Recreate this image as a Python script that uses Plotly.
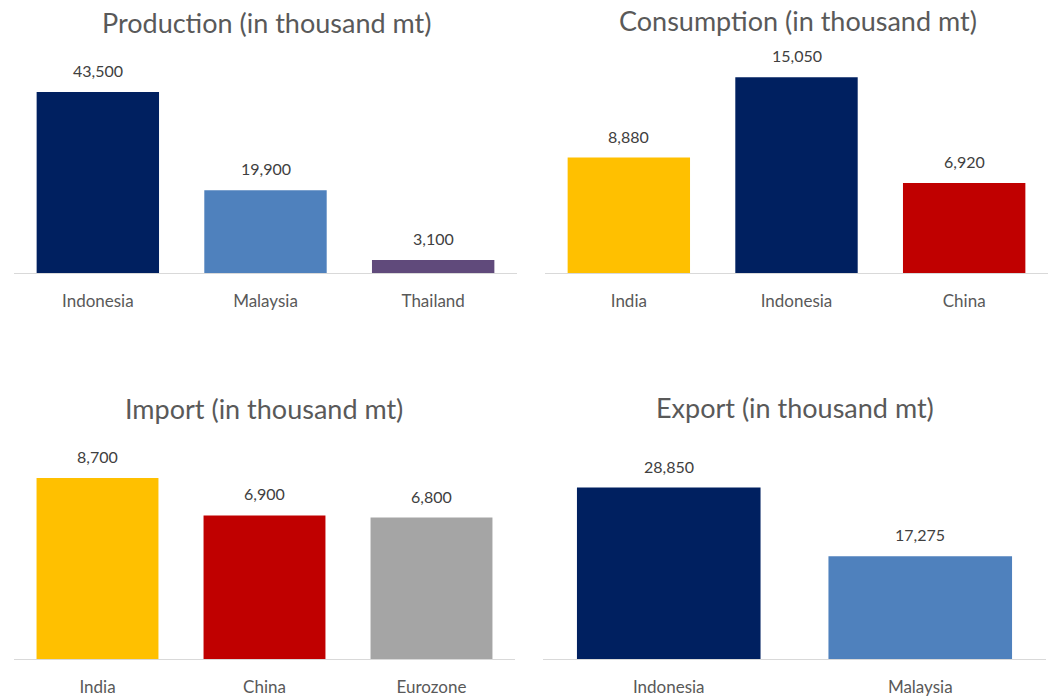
import plotly.graph_objects as go

W, H = 1057, 696

prod_cats = ["Indonesia", "Malaysia", "Thailand"]
prod_vals = [43500, 19900, 3100]
prod_colors = ["#002060", "#4F81BD", "#604A7B"]

cons_cats = ["India", "Indonesia", "China"]
cons_vals = [8880, 15050, 6920]
cons_colors = ["#FFC000", "#002060", "#C00000"]

imp_cats = ["India", "China", "Eurozone"]
imp_vals = [8700, 6900, 6800]
imp_colors = ["#FFC000", "#C00000", "#A5A5A5"]

exp_cats = ["Indonesia", "Malaysia"]
exp_vals = [28850, 17275]
exp_colors = ["#002060", "#4F81BD"]

titles = ["Production (in thousand mt)", "Consumption (in thousand mt)",
          "Import (in thousand mt)", "Export (in thousand mt)"]
yranges = [50000, 16000, 10000, 35000]

# panel geometry in pixels (left, right, axis-line y, top y, title center x, title y)
panels = [
    (14, 517, 273, 65, 266, 22),
    (545, 1048, 273, 65, 798, 20),
    (14, 515, 659, 451, 264, 408),
    (543, 1046, 659, 451, 795, 407),
]

data = [(prod_cats, prod_vals, prod_colors),
        (cons_cats, cons_vals, cons_colors),
        (imp_cats, imp_vals, imp_colors),
        (exp_cats, exp_vals, exp_colors)]

FONT = "Lato, Carlito, Calibri, sans-serif"
fig = go.Figure()
annotations = []
layout_axes = {}

for i, ((cats, vals, cols), (l, r, ay, ty, tx, tty), title, ymax) in enumerate(
        zip(data, panels, titles, yranges)):
    n = "" if i == 0 else str(i + 1)
    xa, ya = "x" + n, "y" + n
    fig.add_trace(go.Bar(
        x=cats, y=vals, marker=dict(color=cols, line=dict(width=0)),
        xaxis=xa, yaxis=ya, showlegend=False, hoverinfo="x+y"))
    layout_axes["xaxis" + n] = dict(
        domain=[l / W, r / W], anchor=ya, showline=True, linecolor="#D9D9D9",
        linewidth=1, showgrid=False, zeroline=False, ticks="",
        ticklabelstandoff=13,
        tickfont=dict(family=FONT, size=17, color="#595959"))
    layout_axes["yaxis" + n] = dict(
        domain=[(H - ay) / H, (H - ty) / H], anchor=xa, range=[0, ymax],
        visible=False, showgrid=False, zeroline=False)
    for c, v in zip(cats, vals):
        annotations.append(dict(
            x=c, y=v, xref=xa, yref=ya, text=f"{v:,}", showarrow=False,
            yanchor="bottom", yshift=10,
            font=dict(family=FONT, size=16, color="#404040")))
    annotations.append(dict(
        x=tx / W, y=(H - tty) / H, xref="paper", yref="paper", text=title,
        showarrow=False, xanchor="center", yanchor="middle",
        font=dict(family=FONT, size=27, color="#595959")))

fig.update_layout(
    width=W, height=H, margin=dict(l=0, r=0, t=0, b=0),
    paper_bgcolor="white", plot_bgcolor="white",
    bargap=0.27, annotations=annotations, **layout_axes)

fig.write_html("out.html", config={"displayModeBar": False},
               post_script="document.body.style.margin='0';document.body.style.overflow='hidden';")
